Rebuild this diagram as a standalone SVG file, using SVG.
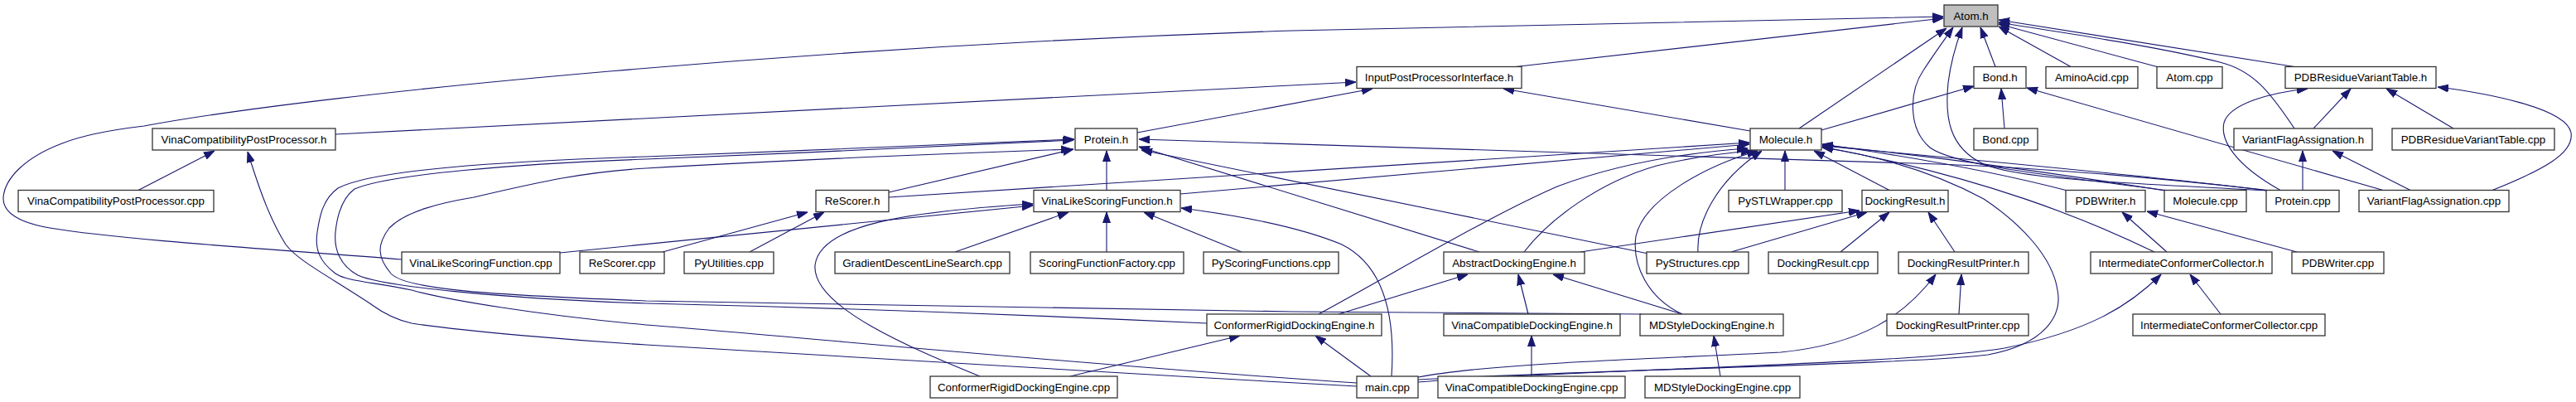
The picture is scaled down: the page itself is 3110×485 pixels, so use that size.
<svg xmlns="http://www.w3.org/2000/svg" width="3110" height="485" viewBox="0 0 3110 485">
<style>
.n rect{fill:#fff;stroke:#333;stroke-width:1.3}
.n text{font-family:"Liberation Sans",Arial,sans-serif;font-size:13.33px;fill:#000;text-anchor:middle}
#atom_h rect{fill:#bfbfbf}
.e path{fill:none;stroke:#191970;stroke-width:1.1;marker-end:url(#ah)}
</style>
<defs>
<marker id="ah" markerUnits="userSpaceOnUse" markerWidth="13" markerHeight="10" viewBox="0 0 13 10" refX="13" refY="5" orient="auto"><path d="M0,0.5 L13,5 L0,9.5 z" fill="#191970" stroke="#191970" stroke-width="1"/></marker>
</defs>
<rect width="3110" height="485" fill="#fff"/>
<g id="connectors" class="e">
<path d="M1830,80.5 L2346,22"/>
<path d="M485,313 C350,302 150,290 60,275 C20,268 3,255 4,238 C6,215 30,190 75,173 C100,163 140,156 174,152 C400,110 1000,55 1560,37 L2346,20"/>
<path d="M2172,155 L2350,34"/>
<path d="M2615,229.5 C2480,212 2360,200 2330,178 C2303,155 2305,110 2322,85 C2335,65 2348,47 2358,33"/>
<path d="M2738,230 C2600,222 2440,218 2395,198 C2352,178 2348,140 2352,100 C2355,75 2362,52 2369,33"/>
<path d="M2409,80.5 L2391,33"/>
<path d="M2500,80.5 L2413,32"/>
<path d="M2604,80.5 L2413,29"/>
<path d="M2770,80.5 L2413,24"/>
<path d="M2770,155 C2740,110 2720,85 2680,75 C2600,55 2480,38 2413,27"/>
<path d="M405,162 L1637,99"/>
<path d="M1373,160 L1657,107"/>
<path d="M2113,158 L1815,107"/>
<path d="M167,229.5 L259,182"/>
<path d="M1638,466 C1300,448 900,422 780,416 C700,411 560,400 497,390 C470,384 455,372 448,367 C400,335 360,315 345,295 C328,268 315,235 299,183"/>
<path d="M1638,462 C1300,440 950,405 780,392 C650,380 540,362 497,350 C450,340 420,340 405,330 C385,315 380,300 383,280 C386,260 390,240 408,227 C450,205 600,195 780,189 C950,183 1150,173 1297,168"/>
<path d="M1457,390 C1200,378 950,370 780,366 C600,360 460,345 432,332 C410,320 403,300 405,280 C407,260 412,240 428,228 C470,210 620,198 780,192 C950,186 1150,175 1296,169"/>
<path d="M1982,379 L1560,376 C1200,372 900,367 780,363 C600,356 490,350 472,330 C455,310 455,295 470,275 C490,255 530,245 572,238 C650,220 700,208 780,203 C950,193 1150,185 1294,180"/>
<path d="M1336,229.5 L1336,182"/>
<path d="M1073,232 L1296,180"/>
<path d="M1786,304 L1375,177"/>
<path d="M1990,306 L1378,181"/>
<path d="M2738,229.5 C2600,214 2450,202 2340,198 L1375,168"/>
<path d="M1073,238 L2112,172"/>
<path d="M1425,234 L2112,174"/>
<path d="M1592,379 C1700,320 1800,260 1880,225 C1960,195 2040,184 2110,179"/>
<path d="M1840,304 C1870,265 1930,220 2000,200 C2050,188 2090,184 2115,182"/>
<path d="M2031,379 C1990,360 1970,320 1975,285 C1985,240 2060,200 2122,182"/>
<path d="M2050,304 C2048,270 2070,220 2127,182"/>
<path d="M2155,229.5 L2155,182"/>
<path d="M2281,229.5 L2190,182"/>
<path d="M2496,230 C2400,205 2300,188 2200,174"/>
<path d="M2614,230 C2500,212 2350,190 2200,175"/>
<path d="M2737,230 C2600,212 2350,190 2200,176"/>
<path d="M2601,304 C2520,265 2400,215 2200,177"/>
<path d="M1712,458 C1950,445 2300,440 2400,428 C2470,415 2490,380 2484,350 C2478,310 2440,270 2395,240 C2330,205 2260,187 2200,178"/>
<path d="M2199,157 L2383,104"/>
<path d="M2420,155 L2416,107"/>
<path d="M2877,229.5 L2447,106"/>
<path d="M2753,229.5 C2700,200 2680,170 2685,148 C2692,125 2740,112 2786,107"/>
<path d="M2793,155 L2838,107"/>
<path d="M2962,155 L2881,107"/>
<path d="M3009,229.5 C3070,205 3108,185 3104,160 C3098,130 3000,112 2943,105"/>
<path d="M2780,229.5 L2780,182"/>
<path d="M2910,229.5 L2816,182"/>
<path d="M676,305 L1247,248"/>
<path d="M1183,454 C1100,420 980,370 984,320 C990,270 1100,255 1247,246"/>
<path d="M1153,304 L1290,256"/>
<path d="M1336,304 L1336,256"/>
<path d="M1499,304 L1381,256"/>
<path d="M1680,454 C1685,380 1670,320 1620,295 C1560,270 1480,258 1426,251"/>
<path d="M800,304 L975,256"/>
<path d="M905,304 L995,256"/>
<path d="M1616,379 L1772,331"/>
<path d="M1845,379 L1833,331"/>
<path d="M2031,379 L1875,331"/>
<path d="M1908,304 L2245,254"/>
<path d="M2090,304 L2254,256"/>
<path d="M2222,304 L2281,256"/>
<path d="M2360,304 L2328,256"/>
<path d="M1292,454 L1497,405"/>
<path d="M1655,454 L1588,405"/>
<path d="M1849,454 L1849,405"/>
<path d="M2077,454 L2069,405"/>
<path d="M2365,379 L2368,331"/>
<path d="M1712,455 C1800,438 2000,433 2150,425 C2250,415 2300,380 2337,331"/>
<path d="M2616,304 L2562,256"/>
<path d="M2773,304 L2592,255"/>
<path d="M2681,379 L2644,331"/>
<path d="M1712,461 C1900,446 2300,440 2420,420 C2520,400 2570,370 2609,331"/>
</g>
<g id="atom_h" class="n"><rect x="2347" y="6" width="65" height="26"/><text x="2379.5" y="23.8">Atom.h</text></g>
<g id="inputpostprocessorinterface_h" class="n"><rect x="1638" y="80.5" width="199" height="26"/><text x="1737.5" y="98.3">InputPostProcessorInterface.h</text></g>
<g id="bond_h" class="n"><rect x="2383" y="80.5" width="63" height="26"/><text x="2414.5" y="98.3">Bond.h</text></g>
<g id="aminoacid_cpp" class="n"><rect x="2470" y="80.5" width="111" height="26"/><text x="2525.5" y="98.3">AminoAcid.cpp</text></g>
<g id="atom_cpp" class="n"><rect x="2604" y="80.5" width="79" height="26"/><text x="2643.5" y="98.3">Atom.cpp</text></g>
<g id="pdbresiduevarianttable_h" class="n"><rect x="2759" y="80.5" width="182" height="26"/><text x="2850" y="98.3">PDBResidueVariantTable.h</text></g>
<g id="vinacompatibilitypostprocessor_h" class="n"><rect x="184" y="155" width="221" height="26"/><text x="294.5" y="172.8">VinaCompatibilityPostProcessor.h</text></g>
<g id="protein_h" class="n"><rect x="1298" y="155" width="75" height="26"/><text x="1335.5" y="172.8">Protein.h</text></g>
<g id="molecule_h" class="n"><rect x="2113" y="155" width="86" height="26"/><text x="2156" y="172.8">Molecule.h</text></g>
<g id="bond_cpp" class="n"><rect x="2383" y="155" width="77" height="26"/><text x="2421.5" y="172.8">Bond.cpp</text></g>
<g id="variantflagassignation_h" class="n"><rect x="2697" y="155" width="167" height="26"/><text x="2780.5" y="172.8">VariantFlagAssignation.h</text></g>
<g id="pdbresiduevarianttable_cpp" class="n"><rect x="2888" y="155" width="196" height="26"/><text x="2986" y="172.8">PDBResidueVariantTable.cpp</text></g>
<g id="vinacompatibilitypostprocessor_cpp" class="n"><rect x="22" y="229.5" width="236" height="26"/><text x="140" y="247.3">VinaCompatibilityPostProcessor.cpp</text></g>
<g id="rescorer_h" class="n"><rect x="985" y="229.5" width="88" height="26"/><text x="1029" y="247.3">ReScorer.h</text></g>
<g id="vinalikescoringfunction_h" class="n"><rect x="1248" y="229.5" width="177" height="26"/><text x="1336.5" y="247.3">VinaLikeScoringFunction.h</text></g>
<g id="pystlwrapper_cpp" class="n"><rect x="2087" y="229.5" width="137" height="26"/><text x="2155.5" y="247.3">PySTLWrapper.cpp</text></g>
<g id="dockingresult_h" class="n"><rect x="2248" y="229.5" width="104" height="26"/><text x="2300" y="247.3">DockingResult.h</text></g>
<g id="pdbwriter_h" class="n"><rect x="2494" y="229.5" width="96" height="26"/><text x="2542" y="247.3">PDBWriter.h</text></g>
<g id="molecule_cpp" class="n"><rect x="2613" y="229.5" width="99" height="26"/><text x="2662.5" y="247.3">Molecule.cpp</text></g>
<g id="protein_cpp" class="n"><rect x="2736" y="229.5" width="88" height="26"/><text x="2780" y="247.3">Protein.cpp</text></g>
<g id="variantflagassignation_cpp" class="n"><rect x="2848" y="229.5" width="181" height="26"/><text x="2938.5" y="247.3">VariantFlagAssignation.cpp</text></g>
<g id="vinalikescoringfunction_cpp" class="n"><rect x="485" y="304" width="191" height="26"/><text x="580.5" y="321.8">VinaLikeScoringFunction.cpp</text></g>
<g id="rescorer_cpp" class="n"><rect x="700" y="304" width="102" height="26"/><text x="751" y="321.8">ReScorer.cpp</text></g>
<g id="pyutilities_cpp" class="n"><rect x="826" y="304" width="108" height="26"/><text x="880" y="321.8">PyUtilities.cpp</text></g>
<g id="gradientdescentlinesearch_cpp" class="n"><rect x="1008" y="304" width="211" height="26"/><text x="1113.5" y="321.8">GradientDescentLineSearch.cpp</text></g>
<g id="scoringfunctionfactory_cpp" class="n"><rect x="1244" y="304" width="185" height="26"/><text x="1336.5" y="321.8">ScoringFunctionFactory.cpp</text></g>
<g id="pyscoringfunctions_cpp" class="n"><rect x="1453" y="304" width="163" height="26"/><text x="1534.5" y="321.8">PyScoringFunctions.cpp</text></g>
<g id="abstractdockingengine_h" class="n"><rect x="1743" y="304" width="170" height="26"/><text x="1828" y="321.8">AbstractDockingEngine.h</text></g>
<g id="pystructures_cpp" class="n"><rect x="1988" y="304" width="123" height="26"/><text x="2049.5" y="321.8">PyStructures.cpp</text></g>
<g id="dockingresult_cpp" class="n"><rect x="2135" y="304" width="132" height="26"/><text x="2201" y="321.8">DockingResult.cpp</text></g>
<g id="dockingresultprinter_h" class="n"><rect x="2292" y="304" width="157" height="26"/><text x="2370.5" y="321.8">DockingResultPrinter.h</text></g>
<g id="intermediateconformercollector_h" class="n"><rect x="2524" y="304" width="219" height="26"/><text x="2633.5" y="321.8">IntermediateConformerCollector.h</text></g>
<g id="pdbwriter_cpp" class="n"><rect x="2767" y="304" width="111" height="26"/><text x="2822.5" y="321.8">PDBWriter.cpp</text></g>
<g id="conformerrigiddockingengine_h" class="n"><rect x="1457" y="379" width="211" height="26"/><text x="1562.5" y="396.8">ConformerRigidDockingEngine.h</text></g>
<g id="vinacompatibledockingengine_h" class="n"><rect x="1743" y="379" width="213" height="26"/><text x="1849.5" y="396.8">VinaCompatibleDockingEngine.h</text></g>
<g id="mdstyledockingengine_h" class="n"><rect x="1980" y="379" width="173" height="26"/><text x="2066.5" y="396.8">MDStyleDockingEngine.h</text></g>
<g id="dockingresultprinter_cpp" class="n"><rect x="2278" y="379" width="171" height="26"/><text x="2363.5" y="396.8">DockingResultPrinter.cpp</text></g>
<g id="intermediateconformercollector_cpp" class="n"><rect x="2575" y="379" width="232" height="26"/><text x="2691" y="396.8">IntermediateConformerCollector.cpp</text></g>
<g id="conformerrigiddockingengine_cpp" class="n"><rect x="1123" y="454" width="226" height="26"/><text x="1236" y="471.8">ConformerRigidDockingEngine.cpp</text></g>
<g id="main_cpp" class="n"><rect x="1638" y="454" width="74" height="26"/><text x="1675" y="471.8">main.cpp</text></g>
<g id="vinacompatibledockingengine_cpp" class="n"><rect x="1736" y="454" width="226" height="26"/><text x="1849" y="471.8">VinaCompatibleDockingEngine.cpp</text></g>
<g id="mdstyledockingengine_cpp" class="n"><rect x="1986" y="454" width="187" height="26"/><text x="2079.5" y="471.8">MDStyleDockingEngine.cpp</text></g>
</svg>
